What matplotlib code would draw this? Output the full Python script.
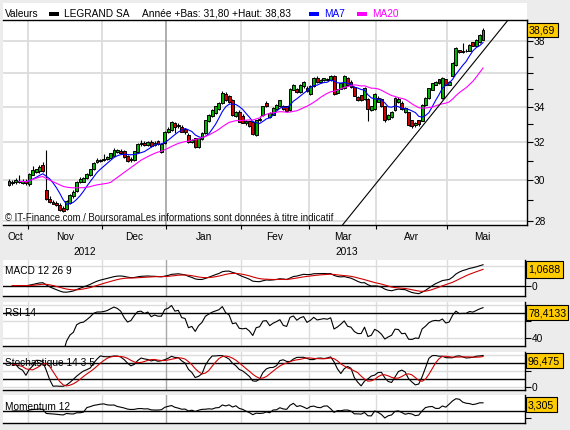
import numpy as np
import pandas as pd
import matplotlib
matplotlib.use("Agg")
import matplotlib.pyplot as plt
from matplotlib.patches import Rectangle
from matplotlib.ticker import FixedLocator, FixedFormatter, NullFormatter
from matplotlib.transforms import blended_transform_factory

plt.rcParams['font.family'] = ['Liberation Sans', 'DejaVu Sans']

# ---------------- data ----------------
opens = [29.75, 29.85, 29.90, 29.98, 29.88, 29.95, 29.80, 30.30, 30.45, 30.50,
         30.80, 29.50, 29.05, 28.90, 28.85, 28.75, 28.60, 28.60, 28.90, 29.20,
         29.45, 29.90, 29.95, 30.15, 30.30, 30.60, 30.95, 31.00, 31.05, 31.10,
         31.15, 31.30, 31.50, 31.50, 31.50, 31.25, 31.05, 31.05, 31.50, 31.90,
         31.95, 31.85, 32.00, 31.85, 32.05, 31.50, 31.95, 32.55, 32.70, 33.05,
         32.90, 32.85, 32.70, 32.40, 32.05, 32.20, 31.75, 32.20, 32.50, 33.20,
         33.45, 33.65, 33.85, 34.20, 34.70, 34.60, 34.35, 33.45, 33.65, 33.45,
         33.10, 33.15, 33.10, 32.40, 33.25, 33.50, 34.20, 33.40, 33.55, 33.85,
         34.05, 34.00, 34.00, 33.80, 35.00, 35.00, 34.85, 35.20, 35.10, 34.75,
         35.20, 35.65, 35.45, 35.55, 35.60, 35.55, 35.80, 34.80, 35.05, 35.10,
         35.65, 35.45, 35.15, 34.55, 34.65, 34.45, 34.45, 33.80, 33.85, 34.30,
         34.45, 34.00, 33.30, 33.40, 33.80, 34.25, 34.20, 33.70, 33.65, 33.20,
         32.95, 33.20, 33.20, 34.10, 34.50, 35.00, 35.30, 35.60, 34.50, 35.60,
         35.30, 35.85, 36.50, 37.40, 37.30, 37.35, 37.40, 37.90, 37.70, 37.95,
         38.10]
highs = [30.05, 30.00, 30.10, 30.25, 30.05, 30.05, 30.35, 30.75, 30.60, 30.80,
         30.95, 31.60, 29.20, 29.00, 28.95, 28.85, 28.70, 29.00, 29.30, 29.50,
         29.95, 30.15, 30.15, 30.35, 30.60, 30.95, 31.15, 31.10, 31.35, 31.25,
         31.45, 31.70, 31.65, 31.65, 31.60, 31.30, 31.20, 31.55, 31.95, 32.10,
         32.05, 32.05, 32.10, 32.05, 32.15, 31.95, 32.60, 32.85, 33.15, 33.10,
         33.05, 32.95, 32.80, 32.50, 32.20, 32.25, 32.25, 32.55, 33.25, 33.60,
         33.85, 34.05, 34.25, 34.90, 34.85, 34.70, 34.45, 33.75, 33.80, 33.55,
         33.25, 33.20, 33.15, 33.25, 33.45, 34.05, 34.30, 33.70, 33.95, 34.15,
         34.40, 34.10, 34.05, 35.10, 35.35, 35.10, 35.30, 35.50, 35.20, 35.25,
         35.75, 35.80, 35.60, 35.70, 35.70, 35.85, 35.90, 35.05, 35.40, 35.90,
         35.75, 35.55, 35.20, 34.60, 34.70, 35.15, 34.50, 34.05, 34.80, 34.60,
         34.50, 34.05, 33.55, 33.75, 34.55, 34.55, 34.30, 33.95, 33.70, 33.25,
         33.10, 33.25, 34.15, 34.55, 35.10, 35.40, 35.50, 35.65, 35.75, 35.65,
         35.50, 36.65, 37.60, 37.45, 37.90, 37.50, 37.80, 37.95, 38.10, 38.45,
         38.83]
lows = [29.70, 29.75, 29.80, 29.85, 29.80, 29.75, 29.70, 30.25, 30.35, 30.40,
        30.45, 29.00, 28.85, 28.80, 28.70, 28.50, 28.45, 28.55, 28.80, 29.10,
        29.40, 29.85, 29.90, 30.05, 30.20, 30.55, 30.90, 30.95, 31.00, 31.05,
        31.10, 31.25, 31.45, 31.40, 31.15, 30.95, 30.95, 31.00, 31.45, 31.80,
        31.80, 31.80, 31.75, 31.80, 31.85, 31.45, 31.90, 32.50, 32.60, 32.50,
        32.80, 32.55, 32.45, 31.95, 31.95, 31.70, 31.70, 32.15, 32.45, 33.10,
        33.40, 33.60, 33.80, 34.15, 34.35, 34.20, 33.45, 33.40, 33.10, 33.05,
        32.95, 32.85, 32.40, 32.35, 33.20, 33.45, 33.95, 33.35, 33.50, 33.80,
        34.00, 33.80, 33.70, 33.75, 34.95, 34.80, 34.80, 35.10, 34.85, 34.70,
        35.15, 35.40, 35.40, 35.50, 35.55, 35.50, 34.70, 34.75, 35.00, 35.05,
        35.20, 35.10, 34.60, 34.35, 34.35, 34.40, 33.20, 33.75, 33.80, 34.25,
        34.00, 33.10, 33.25, 33.35, 33.75, 34.20, 33.80, 33.65, 32.90, 32.80,
        32.85, 32.90, 33.15, 34.05, 34.45, 34.95, 35.25, 35.35, 34.45, 35.25,
        35.25, 35.80, 36.45, 37.25, 37.25, 37.30, 37.35, 37.65, 37.65, 37.90,
        38.05]
closes = [29.95, 29.92, 30.00, 29.90, 29.95, 29.85, 30.30, 30.50, 30.55, 30.70,
          30.50, 29.05, 28.95, 28.85, 28.80, 28.55, 28.50, 28.95, 29.25, 29.40,
          29.90, 30.05, 30.10, 30.30, 30.55, 30.90, 31.05, 31.05, 31.10, 31.20,
          31.40, 31.60, 31.55, 31.45, 31.20, 31.00, 31.10, 31.50, 31.90, 31.95,
          31.85, 32.00, 31.80, 31.95, 31.90, 31.90, 32.55, 32.70, 33.10, 32.85,
          32.95, 32.60, 32.55, 32.00, 32.10, 31.75, 32.20, 32.50, 33.20, 33.50,
          33.80, 34.00, 34.20, 34.80, 34.40, 34.25, 33.55, 33.65, 33.15, 33.10,
          33.15, 32.90, 32.45, 33.20, 33.30, 34.00, 34.05, 33.60, 33.90, 34.10,
          34.35, 33.85, 33.75, 35.00, 35.25, 34.85, 35.25, 35.45, 34.90, 35.20,
          35.70, 35.45, 35.55, 35.65, 35.60, 35.80, 34.75, 35.00, 35.35, 35.80,
          35.25, 35.15, 34.65, 34.40, 34.40, 35.10, 33.85, 34.00, 34.75, 34.50,
          34.05, 33.25, 33.50, 33.70, 34.50, 34.45, 33.85, 33.90, 32.95, 32.90,
          33.05, 33.00, 34.10, 34.50, 35.05, 35.35, 35.45, 35.40, 35.70, 35.30,
          35.45, 36.60, 37.55, 37.30, 37.35, 37.35, 37.75, 37.70, 38.05, 38.40,
          38.69]

month_labels = ["Oct", "Nov", "Dec", "Jan", "Fev", "Mar", "Avr", "Mai"]
month_days = [6, 22, 19, 22, 20, 20, 21, 11]          # trading sessions per month
year_labels = ["2012", "2013"]
price_ticks = [28, 30, 32, 34, 36, 38]
price_tick_labels = ["28", "30", "32", "34", "", "38"]
price_minor_ticks = [29, 31, 33, 35, 37, 39]
trend_x = [99.2, 147.4]
trend_y = [27.95, 39.38]
header_title = "Valeurs"
header_name = "LEGRAND SA"
header_range = "Année +Bas: 31,80 +Haut: 38,83"
last_price_text = "38,69"
macd_text, rsi_text, stoch_text, mom_text = "1,0688", "78,4133", "96,475", "3,305"

# ---------------- layout helpers ----------------
W, H = 570, 430
BG = '#ECECEC'
GREEN, RED = '#00B400', '#D00000'
GRID, YEARGRID = '#DCDCDC', '#A8A8A8'
SP = 3.386          # pixels per session
X0 = 9              # pixel x of first session

fig = plt.figure(figsize=(W / 100, H / 100), dpi=100, facecolor=BG)


def rect(x0, y0, x1, y1):
    return [x0 / W, 1 - y1 / H, (x1 - x0) / W, (y1 - y0) / H]


def fx(x):
    return x / W


def fy(y):
    return 1 - y / H


def px2idx(x):
    return (x - X0) / SP


n = len(closes)
idx = np.arange(n)
bounds = np.cumsum(month_days)[:-1] - 0.5
jan_bound = bounds[2]

# white panel behind header + main chart
fig.patches.append(Rectangle((fx(3), fy(225)), (527 - 3) / W, (225 - 3) / H,
                             transform=fig.transFigure, facecolor='white',
                             edgecolor='none', zorder=-10))

FS = 7.3

# ---------------- main chart ----------------
ax = fig.add_axes(rect(3, 20, 527, 225))
ax.set_facecolor('white')
ax.set_yscale('log')
ax.set_ylim(27.81, 39.38)
xl = (px2idx(3), px2idx(527))
ax.set_xlim(*xl)
ax.spines['left'].set_visible(False)
for s in ['top', 'bottom', 'right']:
    ax.spines[s].set_color('black')
    ax.spines[s].set_linewidth(1.0)

for p in price_ticks:
    ax.axhline(p, color=GRID, lw=1.3, zorder=0)
for b in bounds:
    ax.axvline(b, color=YEARGRID if b == jan_bound else GRID, lw=1.3, zorder=0)

ax.yaxis.tick_right()
ax.yaxis.set_major_locator(FixedLocator(price_ticks))
ax.yaxis.set_major_formatter(FixedFormatter(price_tick_labels))
ax.yaxis.set_minor_locator(FixedLocator(price_minor_ticks))
ax.yaxis.set_minor_formatter(NullFormatter())
ax.tick_params(axis='y', which='both', direction='out', length=4, width=0.8,
               labelsize=FS, pad=1, colors='black')
ax.xaxis.set_major_locator(FixedLocator(bounds))
ax.xaxis.set_major_formatter(NullFormatter())
ax.xaxis.set_minor_locator(FixedLocator([]))
ax.tick_params(axis='x', which='both', direction='out', length=3, width=0.8)

o = np.array(opens); c = np.array(closes); h = np.array(highs); l = np.array(lows)
up = c >= o
ax.vlines(idx, l, h, color='black', lw=0.8, zorder=3)
ax.bar(idx, np.abs(c - o) + 0.02, bottom=np.minimum(o, c) - 0.01, width=0.86,
       color=np.where(up, GREEN, RED), edgecolor='black', linewidth=0.7, zorder=4)

cs = pd.Series(closes)
ma7 = cs.rolling(7, min_periods=1).mean()
ma20 = cs.rolling(20, min_periods=1).mean()
ax.plot(idx[3:], ma7[3:], color='#0000FF', lw=0.8, zorder=5)
ax.plot(idx[3:], ma20[3:], color='#FF00FF', lw=0.8, zorder=5)
# trend line through two anchor points, extended to the borders (straight in log space)
tx = np.array([px2idx(330), px2idx(540)])
slope = (np.log(trend_y[1]) - np.log(trend_y[0])) / (trend_x[1] - trend_x[0])
ty = np.exp(np.log(trend_y[0]) + slope * (tx - trend_x[0]))
ax.plot(tx, ty, color='black', lw=0.8, zorder=5)

ax.text(0.004, 0.018, "© IT-Finance.com / BoursoramaLes informations sont données à titre indicatif",
        transform=ax.transAxes, fontsize=6.9, va='baseline', ha='left', color='#111111', zorder=6)

# month / year labels
tr = blended_transform_factory(ax.transData, fig.transFigure)
edges = [xl[0]] + list(bounds) + [px2idx(517)]
for k, lab in enumerate(month_labels):
    ax.text((edges[k] + edges[k + 1]) / 2, fy(240.5), lab, transform=tr,
            ha='center', va='baseline', fontsize=FS)
yedges = [xl[0], jan_bound, px2idx(527)]
for k, lab in enumerate(year_labels):
    ax.text((yedges[k] + yedges[k + 1]) / 2, fy(255), lab, transform=tr,
            ha='center', va='baseline', fontsize=FS)

# ---------------- header ----------------
fig.text(fx(5), fy(17), header_title, fontsize=FS, va='baseline')
fig.patches.append(Rectangle((fx(49), fy(15.5)), 10 / W, 3.5 / H, transform=fig.transFigure,
                             facecolor='black', edgecolor='none'))
fig.text(fx(64), fy(17), header_name, fontsize=FS, va='baseline')
fig.text(fx(142), fy(17), header_range, fontsize=FS, va='baseline')
fig.patches.append(Rectangle((fx(309), fy(15.5)), 10 / W, 3.5 / H, transform=fig.transFigure,
                             facecolor='#0000FF', edgecolor='none'))
fig.text(fx(324), fy(17), "MA7", fontsize=FS, va='baseline', color='#0000FF')
fig.patches.append(Rectangle((fx(357), fy(15.5)), 10 / W, 3.5 / H, transform=fig.transFigure,
                             facecolor='#FF00FF', edgecolor='none'))
fig.text(fx(372), fy(17), "MA20", fontsize=FS, va='baseline', color='#FF00FF')


def value_box(x0, y0, x1, y1, text):
    fig.patches.append(Rectangle((fx(x0), fy(y1)), (x1 - x0) / W, (y1 - y0) / H,
                                 transform=fig.transFigure, facecolor='#FFCC00',
                                 edgecolor='black', linewidth=0.8, zorder=10))
    fig.text(fx(x0 + 2), fy((y0 + y1) / 2 + 0.5), text, fontsize=FS + 0.3, va='center',
             ha='left', zorder=11)


value_box(527, 23, 558, 37, last_price_text)

# ---------------- indicators ----------------
ema12 = cs.ewm(span=12, adjust=False).mean()
ema26 = cs.ewm(span=26, adjust=False).mean()
macd = ema12 - ema26
signal = macd.ewm(span=9, adjust=False).mean()

delta = cs.diff()
gain = delta.clip(lower=0)
loss = -delta.clip(upper=0)
ag = gain.ewm(alpha=1 / 14, adjust=True, min_periods=14).mean()
al = loss.ewm(alpha=1 / 14, adjust=True, min_periods=14).mean()
rsi = 100 - 100 / (1 + ag / al)

hs = pd.Series(highs); ls = pd.Series(lows)
hh = hs.rolling(14, min_periods=1).max()
ll = ls.rolling(14, min_periods=1).min()
fastk = 100 * (cs - ll) / (hh - ll)
slowk = fastk.rolling(3, min_periods=1).mean()
stoch_d = slowk.rolling(5, min_periods=1).mean()

mom = cs - cs.shift(12).fillna(cs.iloc[0])

sub_xl = (px2idx(3), px2idx(525))


def sub_axes(y0, y1, ylim, ticks, ticklabels, hlines, grids):
    a = fig.add_axes(rect(3, y0, 525, y1))
    a.set_facecolor('white')
    a.set_xlim(*sub_xl)
    a.set_ylim(*ylim)
    a.spines['top'].set_visible(False)
    a.spines['left'].set_visible(False)
    a.spines['right'].set_color('black')
    a.spines['bottom'].set_color('black')
    a.spines['bottom'].set_linewidth(1.0)
    a.spines['right'].set_linewidth(1.0)
    a.set_xticks([])
    a.yaxis.tick_right()
    a.set_yticks(ticks)
    a.set_yticklabels(ticklabels)
    a.tick_params(axis='y', direction='out', length=4, width=0.8, labelsize=FS, pad=1)
    for g in grids:
        a.axhline(g, color=GRID, lw=1.0, zorder=0)
    for b in bounds:
        a.axvline(b, color=YEARGRID if b == jan_bound else GRID, lw=1.0, zorder=0)
    for hl in hlines:
        a.axhline(hl, color='black', lw=1.0, zorder=2)
    return a


start = 1
a1 = sub_axes(260, 296, (-0.52, 1.28), [0, 1.0], ["0", ""], [0], [1.0])
a1.plot(idx[start:], macd[start:], color='black', lw=0.8, zorder=3)
a1.plot(idx[start:], signal[start:], color='#D00000', lw=0.8, zorder=3)
fig.text(fx(5), fy(270.5), "MACD 12 26 9", fontsize=FS, va='center')
value_box(526, 261, 563, 278, macd_text)

a2 = sub_axes(302, 346, (30.4, 83.5), [40, 60, 80], ["40", "", ""], [70], [40, 60, 80])
a2.plot(idx[start:], rsi[start:], color='black', lw=0.8, zorder=3)
fig.text(fx(5), fy(312.5), "RSI 14", fontsize=FS, va='center', zorder=1)
value_box(526, 305, 568, 320, rsi_text)

a3 = sub_axes(352, 390, (-9.4, 109), [0, 50, 100], ["0", "", ""], [75, 25], [0, 50, 100])
a3.plot(idx[start:], slowk[start:], color='black', lw=0.8, zorder=3)
a3.plot(idx[start:], stoch_d[start:], color='#D00000', lw=0.8, zorder=3)
fig.text(fx(5), fy(363), "Stochastique 14 3 5", fontsize=FS, va='center', zorder=1)
value_box(526, 353, 563, 368, stoch_text)

a4 = sub_axes(395, 423, (-4.4, 5.86), [3.3, -2.45], ["", ""], [0], [])
a4.plot(idx[start:], mom[start:], color='black', lw=0.8, zorder=3)
fig.text(fx(5), fy(406.5), "Momentum 12", fontsize=FS, va='center', zorder=1)
value_box(526, 397, 557, 412, mom_text)

fig.savefig("out.png", dpi=100, facecolor=BG)
